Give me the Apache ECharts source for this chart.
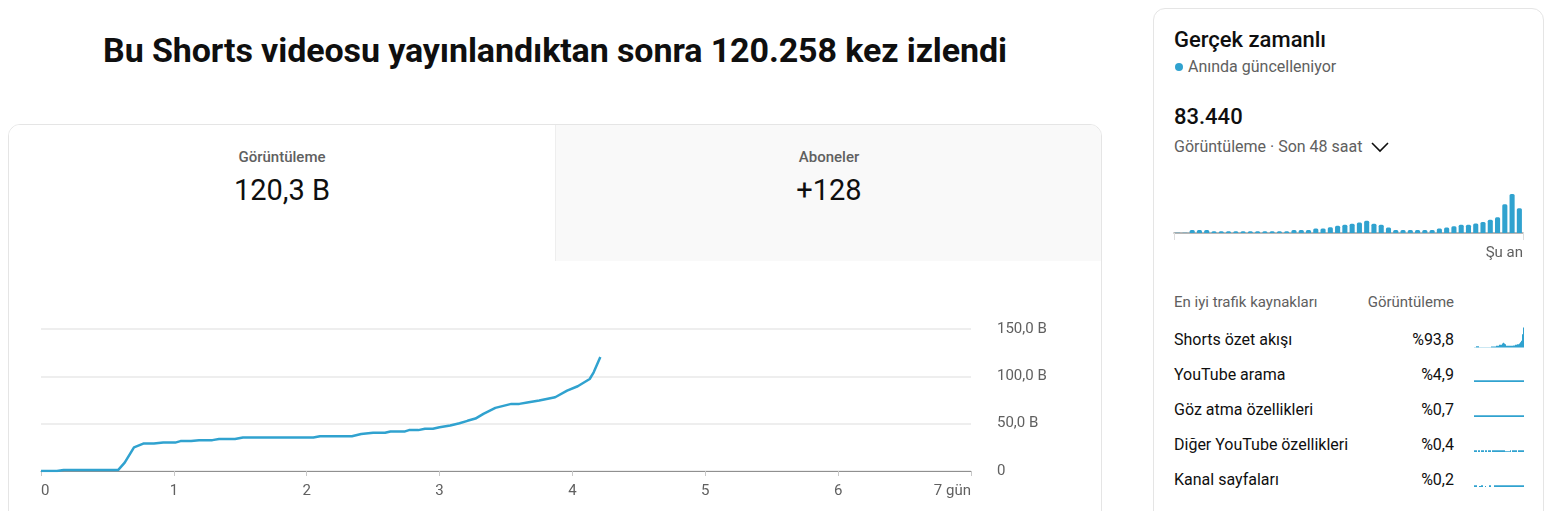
<!DOCTYPE html>
<html><head><meta charset="utf-8">
<script src="https://cdn.jsdelivr.net/npm/echarts@6/dist/echarts.min.js"></script>
<style>
html,body{margin:0;padding:0;width:1565px;height:511px;overflow:hidden;background:#fff;font-family:Roboto,Arial,sans-serif;color:#0f0f0f;}
.abs{position:absolute;white-space:nowrap;}
#title{left:0;width:1110px;top:28px;text-align:center;font-size:34px;font-weight:700;line-height:44px;letter-spacing:-0.1px}
#card{left:8px;top:124px;width:1092px;height:440px;border:1px solid #e5e5e5;border-radius:12px;overflow:hidden;background:#fff}
.tab{position:absolute;top:0;height:136px;width:546px;text-align:center}
.tab .lbl{position:absolute;left:0;right:0;top:22px;font-size:15px;line-height:20px;font-weight:500;color:#606060}
.tab .val{position:absolute;left:0;right:0;top:47px;font-size:29px;line-height:36px;color:#0f0f0f}
#rcard{left:1153px;top:8px;width:389px;height:560px;border:1px solid #e5e5e5;border-radius:12px;background:#fff}
.gray{color:#606060}
</style></head>
<body>
<div id="title" class="abs">Bu Shorts videosu yayınlandıktan sonra 120.258 kez izlendi</div>
<div id="card" class="abs">
  <div class="tab" style="left:0;background:#fff"><div class="lbl">Görüntüleme</div><div class="val">120,3 B</div></div>
  <div class="tab" style="left:546px;background:#f9f9f9;border-left:1px solid #eeeeee"><div class="lbl">Aboneler</div><div class="val">+128</div></div>
</div>
<div id="main" class="abs" style="left:0;top:260px;width:1100px;height:251px"></div>

<div id="rcard" class="abs"></div>
<div class="abs" style="left:1174px;top:26px;font-size:22px;line-height:28px;font-weight:500">Gerçek zamanlı</div>
<div class="abs" style="left:1175px;top:63px;width:8px;height:8px;border-radius:4px;background:#30a2cf"></div>
<div class="abs gray" style="left:1188px;top:56px;font-size:16px;line-height:22px">Anında güncelleniyor</div>
<div class="abs" style="left:1174px;top:103px;font-size:22px;line-height:28px;font-weight:500">83.440</div>
<div class="abs gray" style="left:1174px;top:136px;font-size:16px;line-height:22px">Görüntüleme · Son 48 saat</div>
<svg class="abs" style="left:1370px;top:139px" width="20" height="16" viewBox="0 0 20 16"><path d="M2 4 L10 12 L18 4" fill="none" stroke="#0f0f0f" stroke-width="1.6"/></svg>
<div id="rt" class="abs" style="left:1153px;top:170px;width:391px;height:100px"></div>
<div class="abs gray" style="left:1174px;top:292px;font-size:15px;line-height:20px">En iyi trafik kaynakları</div>
<div class="abs gray" style="left:1300px;width:154px;text-align:right;top:292px;font-size:15px;line-height:20px">Görüntüleme</div>
<div id="rows"></div>
<div id="spark" class="abs" style="left:1468px;top:320px;width:62px;height:175px"></div>

<script>
// ---- main cumulative views (thousands, "B") by day ----
var days  = [0,0.12,0.17,0.58,0.63,0.70,0.77,0.85,0.92,1.01,1.05,1.13,1.19,1.29,1.34,1.46,1.52,2.05,2.10,2.34,2.41,2.50,2.59,2.63,2.74,2.77,2.84,2.89,2.95,3.00,3.08,3.15,3.21,3.27,3.33,3.42,3.54,3.60,3.66,3.75,3.87,3.96,4.04,4.13,4.16,4.21];
var views = [0,0,1,1,8.8,25,29,29,30,30,31.6,31.6,32.6,32.6,33.7,33.7,35.4,35.4,36.8,36.8,39,40.4,40.4,41.8,41.8,43.2,43.2,44.6,44.6,46.3,48,50.5,53,55.4,60.4,66.7,70.9,70.9,72.3,74.4,77.9,84.9,89.5,97.2,104.2,120.3];
var yTicks = [0,50,100,150];
var xLastLabel = '7 gün';

// ---- real-time hourly views, last 48 hours ----
var hourlyViews = [60,60,810,810,810,450,450,450,450,450,450,450,450,450,450,450,810,810,810,1170,1170,1530,1890,2160,2430,2790,3240,2430,2160,1440,810,810,810,810,810,810,1170,1440,1800,2160,2160,2520,2880,3510,4140,7560,10260,6480];
var nowLabel = 'Şu an';

// ---- traffic sources ----
var sourceNames = ['Shorts özet akışı','YouTube arama','Göz atma özellikleri','Diğer YouTube özellikleri','Kanal sayfaları'];
var sourceShares = ['%93,8','%4,9','%0,7','%0,4','%0,2'];
var sparkShorts = [1,1,4,4,4,1,1,1,1,1,1,1,1,1,1,1,1,3,3,3,3,3,5,5,5,8,8,8,12,14,12,10,5,5,5,5,5,5,5,6,6,8,8,10,10,12,16,20,40,60];
var sparkSearch = [5,5,5,5,5,5,5,5,5,5,5,5,5,5,5,5,5,5,5,5,5,5,5,5,5,5,5,5,5,5,5,5,5,5,5,5,5,5,5,5,5,5,5,5,5,5,5,5,5,5];
var sparkBrowse = [5,5,5,5,5,5,5,5,5,5,5,5,5,5,5,5,5,5,5,5,5,5,5,5,5,5,5,5,5,5,5,5,5,5,5,5,5,5,5,5,5,5,5,5,5,5,5,5,5,5];
var sparkOther  = [5,5,5,0,5,5,0,5,5,5,0,5,5,0,5,5,5,0,5,5,5,5,5,5,5,5,5,5,5,5,5,2,2,2,2,2,5,0,5,5,5,5,5,0,5,5,5,5,5,5];
var sparkChannel= [5,5,5,0,0,3,3,5,5,0,0,3,0,0,0,5,5,0,0,0,5,5,5,5,5,5,5,5,5,5,5,5,5,5,5,5,5,5,5,5,5,5,5,5,5,5,5,5,5,5];

var BLUE = '#30a2cf';

// rows text
var rowsHtml = '';
var rowTops = [329,364,399,434,469];
for (var i=0;i<sourceNames.length;i++){
  rowsHtml += '<div class="abs" style="left:1174px;top:'+rowTops[i]+'px;font-size:16px;line-height:22px">'+sourceNames[i]+'</div>';
  rowsHtml += '<div class="abs" style="left:1300px;width:154px;text-align:right;top:'+rowTops[i]+'px;font-size:16px;line-height:22px">'+sourceShares[i]+'</div>';
}
document.getElementById('rows').innerHTML = rowsHtml;

// main chart
var main = echarts.init(document.getElementById('main'));
main.setOption({
  animation:false,
  grid:{left:41,right:129,top:69,bottom:40,containLabel:false,outerBoundsMode:'none'},
  xAxis:{type:'value',min:0,max:7,interval:1,
    axisLine:{show:true,lineStyle:{color:'#909090',width:1}},
    axisTick:{show:true,length:5,lineStyle:{color:'#c8c8c8'}},
    splitLine:{show:false},
    axisLabel:{color:'#606060',fontSize:15,fontFamily:'Roboto',margin:13,alignMinLabel:'left',alignMaxLabel:'right',
      formatter:function(v){return v===7?xLastLabel:String(v);}}
  },
  yAxis:{type:'value',position:'right',min:yTicks[0],max:yTicks[yTicks.length-1],interval:50,
    axisLine:{show:false},axisTick:{show:false},
    splitLine:{show:true,lineStyle:{color:'#e8e8e8',width:1.5}},
    axisLabel:{color:'#606060',fontSize:15,fontFamily:'Roboto',margin:26,
      formatter:function(v){return v===0?'0':v.toFixed(1).replace('.',',')+' B';}}
  },
  series:[{type:'line',data:days.map(function(d,i){return [d,views[i]];}),symbol:'none',
    lineStyle:{color:BLUE,width:2.5},itemStyle:{color:BLUE}}]
});

// real-time bars
var rt = echarts.init(document.getElementById('rt'));
var cats = hourlyViews.map(function(_,i){return i;});
rt.setOption({
  animation:false,
  grid:{left:21,right:21,top:20,bottom:37,containLabel:false,outerBoundsMode:'none'},
  xAxis:[
    {type:'category',data:cats,boundaryGap:true,position:'bottom',
      axisLine:{show:true,lineStyle:{color:'#9e9e9e',width:1.5}},axisTick:{show:false},axisLabel:{show:false}},
    {type:'value',min:0,max:1,interval:1,position:'bottom',
      axisLine:{show:false},splitLine:{show:false},
      axisTick:{show:true,length:7,lineStyle:{color:'#dddddd'}},
      axisLabel:{color:'#606060',fontSize:15,fontFamily:'Roboto',margin:13,alignMaxLabel:'right',
        formatter:function(v){return v===1?nowLabel:'';}}}
  ],
  yAxis:{type:'value',min:0,max:11300,show:false,splitLine:{show:false}},
  series:[{type:'bar',xAxisIndex:0,data:hourlyViews,barCategoryGap:'30%',
    itemStyle:{color:BLUE,borderRadius:[1.5,1.5,0,0]}}]
});

// sparklines
var sp = echarts.init(document.getElementById('spark'));
var sparks = [sparkShorts,sparkSearch,sparkBrowse,sparkOther,sparkChannel];
var baselines = [27.5,62,97,132,167];
var grids=[],xs=[],ys=[],ss=[];
sparks.forEach(function(arr,i){
  grids.push({left:6,width:50,top:baselines[i]-20,height:20,containLabel:false,outerBoundsMode:'none'});
  xs.push({type:'category',gridIndex:i,data:arr.map(function(_,k){return k;}),show:false});
  ys.push({type:'value',gridIndex:i,min:0,max:60,show:false});
  ss.push({type:'bar',xAxisIndex:i,yAxisIndex:i,data:arr,barCategoryGap:'0%',barGap:'0%',itemStyle:{color:BLUE}});
});
sp.setOption({animation:false,grid:grids,xAxis:xs,yAxis:ys,series:ss});
</script>
</body></html>
